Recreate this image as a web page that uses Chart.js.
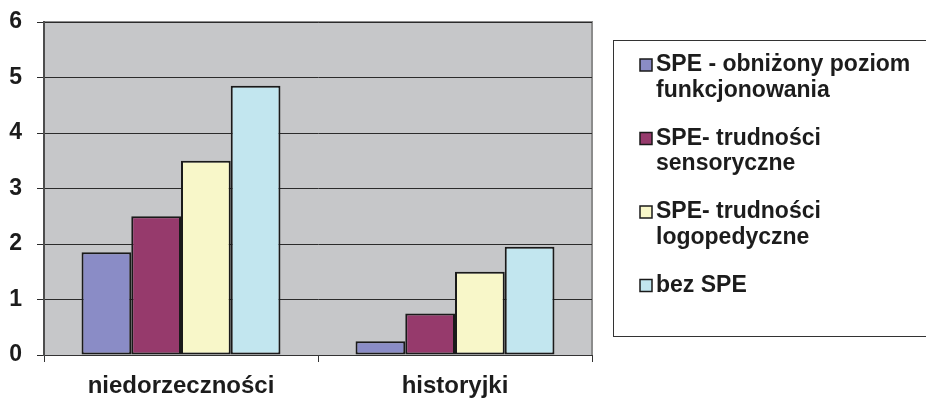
<!DOCTYPE html>
<html>
<head>
<meta charset="utf-8">
<title>SPE - niedorzeczności i historyjki</title>
<script src="https://cdn.jsdelivr.net/npm/chart.js@4.4.1/dist/chart.umd.min.js"></script>
<style>
  html, body { margin: 0; padding: 0; background: #fff; }
  #wrap { width: 926px; height: 399px; position: relative; }
</style>
</head>
<body>
<div id="wrap"><canvas id="myChart" width="926" height="399"></canvas></div>
<script>
var kategorie = ["niedorzeczności", "historyjki"];
var serie = [
  "SPE - obniżony poziom funkcjonowania",
  "SPE- trudności sensoryczne",
  "SPE- trudności logopedyczne",
  "bez SPE"
];
var obnizony = [1.85, 0.25];
var sensoryczne = [2.5, 0.75];
var logopedyczne = [3.5, 1.5];
var bezSpe = [4.85, 1.95];
var kolory = ["#8a8cc6", "#963a6c", "#f8f7c9", "#c2e6ef"];
var osY = [0, 1, 2, 3, 4, 5, 6];

var czcionka = "'Liberation Sans', Arial, sans-serif";

// szare tło pola wykresu z ramką u góry i z prawej
var tloWykresu = {
  id: "tloWykresu",
  beforeDraw: function (chart) {
    var ctx = chart.ctx;
    var a = chart.chartArea;
    ctx.save();
    ctx.fillStyle = "#c6c7c9";
    ctx.fillRect(a.left, a.top, a.right - a.left, a.bottom - a.top);
    ctx.strokeStyle = "#8c8c8c";
    ctx.lineWidth = 2;
    ctx.beginPath();
    ctx.moveTo(a.left, a.top);
    ctx.lineTo(a.right, a.top);
    ctx.lineTo(a.right, a.bottom);
    ctx.stroke();
    ctx.restore();
  }
};

function zawin(ctx, tekst, max) {
  var slowa = tekst.split(" ");
  var linie = [];
  var akt = "";
  slowa.forEach(function (s) {
    var proba = akt ? akt + " " + s : s;
    if (ctx.measureText(proba).width > max && akt) {
      linie.push(akt);
      akt = s;
    } else {
      akt = proba;
    }
  });
  if (akt) linie.push(akt);
  return linie;
}

// legenda w ramce po prawej stronie
var legendaRamka = {
  id: "legendaRamka",
  afterDraw: function (chart) {
    var ctx = chart.ctx;
    ctx.save();
    ctx.strokeStyle = "#333";
    ctx.lineWidth = 1;
    ctx.strokeRect(613.5, 40.5, 330, 296);
    ctx.font = "bold 23px " + czcionka;
    ctx.textBaseline = "middle";
    ctx.textAlign = "left";
    chart.data.datasets.forEach(function (ds, i) {
      var y = 65 + i * 73.5;
      ctx.fillStyle = ds.backgroundColor;
      ctx.fillRect(640, y - 6, 12, 12);
      ctx.strokeStyle = "#1a1a1a";
      ctx.lineWidth = 1.5;
      ctx.strokeRect(640, y - 6, 12, 12);
      ctx.fillStyle = "#1c1c1c";
      zawin(ctx, ds.label, 262).forEach(function (l, j) {
        ctx.fillText(l, 656, y + j * 25.5);
      });
    });
    ctx.restore();
  }
};

var dane = [obnizony, sensoryczne, logopedyczne, bezSpe];

new Chart("myChart", {
  type: "bar",
  data: {
    labels: kategorie,
    datasets: dane.map(function (d, i) {
      return {
        label: serie[i],
        data: d,
        backgroundColor: kolory[i],
        borderColor: "#1a1a1a",
        borderWidth: 2,
        borderSkipped: false,
        categoryPercentage: 0.726,
        barPercentage: 1.0
      };
    })
  },
  options: {
    responsive: false,
    animation: false,
    devicePixelRatio: 1,
    layout: { padding: { top: 22, right: 334, left: 0, bottom: 0 } },
    plugins: {
      legend: { display: false },
      tooltip: { enabled: false }
    },
    scales: {
      x: {
        offset: true,
        afterFit: function (s) { s.height = 44; s.paddingLeft = 0; s.paddingRight = 0; },
        grid: { offset: true, drawOnChartArea: false, drawTicks: true, tickLength: 7, color: "#333" },
        border: { color: "#333", width: 1 },
        ticks: {
          color: "#1c1c1c",
          padding: 10,
          maxRotation: 0,
          font: { family: czcionka, size: 24, weight: "bold" }
        }
      },
      y: {
        min: osY[0],
        max: osY[osY.length - 1],
        afterFit: function (s) { s.width = 44; s.paddingTop = 0; s.paddingBottom = 0; },
        ticks: {
          stepSize: 1,
          color: "#1c1c1c",
          padding: 15,
          font: { family: czcionka, size: 23, weight: "bold" }
        },
        grid: { color: "#2b2b2b", lineWidth: 1, tickLength: 7 },
        border: { color: "#4d4d4d", width: 2 }
      }
    }
  },
  plugins: [tloWykresu, legendaRamka]
});
</script>
</body>
</html>
